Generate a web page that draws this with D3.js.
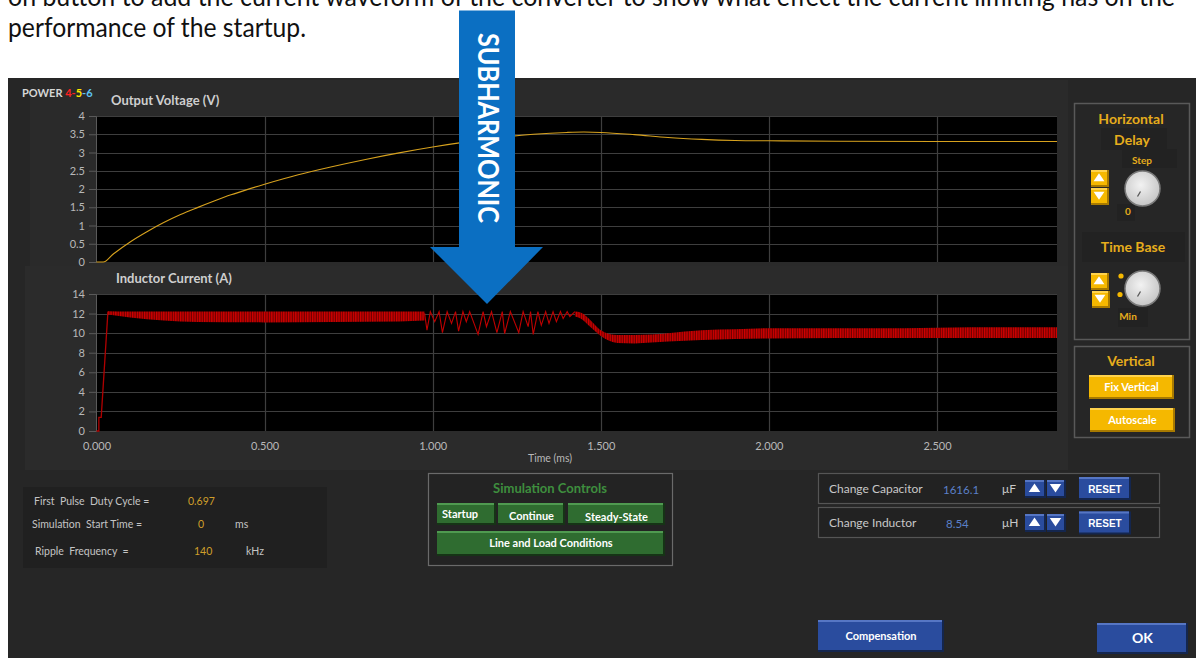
<!DOCTYPE html>
<html><head><meta charset="utf-8">
<script src="https://cdn.jsdelivr.net/npm/d3@7"></script>
<style>body{margin:0;background:#fff;overflow:hidden}svg{display:block;font-family:Lato,"Open Sans",sans-serif}</style>
</head><body><svg id="c" width="1196" height="658"></svg>
<script>
// ---------- data ----------
const introLines = ["on button to add the current waveform of the converter to show what effect the current limiting has on the", "performance of the startup."];
const timeTicks = [0, 0.5, 1.0, 1.5, 2.0, 2.5];
const timeMax = 2.857;
const voltTicks = [0, 0.5, 1, 1.5, 2, 2.5, 3, 3.5, 4];
const currTicks = [0, 2, 4, 6, 8, 10, 12, 14];

const voltT = [0, 0.02, 0.05, 0.1, 0.15, 0.2, 0.25, 0.3, 0.35, 0.4, 0.45, 0.5, 0.6, 0.7, 0.8, 0.9, 1.0, 1.1, 1.2, 1.3, 1.4, 1.45, 1.5, 1.6, 1.7, 1.8, 1.9, 2.0, 2.2, 2.5, 2.857];
const voltV = [0, 0, 0.22, 0.55, 0.83, 1.08, 1.3, 1.49, 1.67, 1.84, 1.99, 2.13, 2.39, 2.61, 2.81, 2.99, 3.15, 3.29, 3.41, 3.5, 3.55, 3.56, 3.55, 3.49, 3.41, 3.36, 3.33, 3.32, 3.31, 3.3, 3.3];

const iRampT = [0, 0.007, 0.007, 0.014, 0.034];
const iRampA = [0, 0, 1.4, 1.4, 12.2];
const iBand1T = [0.034, 0.1, 0.2, 0.3, 0.5, 0.7, 0.9, 0.976];
const iBand1Hi = [12.25, 12.2, 12.2, 12.2, 12.2, 12.2, 12.2, 12.2];
const iBand1Lo = [11.9, 11.6, 11.3, 11.15, 11.1, 11.15, 11.2, 11.3];
const iSubT = [0.976, 0.983, 0.993, 1.006, 1.019, 1.029, 1.043, 1.056, 1.068, 1.077, 1.090, 1.100, 1.110, 1.135, 1.150, 1.160, 1.175, 1.191, 1.207, 1.214, 1.231, 1.256, 1.269, 1.284, 1.291, 1.299, 1.313, 1.323, 1.336, 1.346, 1.358, 1.368, 1.380, 1.388, 1.400, 1.408, 1.423];
const iSubA = [12.02, 10.3, 12.2, 11.17, 12.2, 10.05, 12.2, 11.0, 12.2, 10.2, 12.2, 11.17, 12.2, 9.88, 12.2, 10.66, 12.2, 10.05, 12.2, 9.95, 12.2, 10.05, 12.2, 10.66, 12.2, 9.88, 12.2, 10.8, 12.2, 11.0, 12.2, 11.17, 12.2, 11.5, 12.2, 11.7, 12.2];
const iBand2T = [1.423, 1.44, 1.47, 1.5, 1.55, 1.6, 1.65, 1.7, 1.8, 1.9, 2.0, 2.2, 2.4, 2.6, 2.857];
const iBand2Hi = [12.2, 12.1, 11.3, 10.3, 9.8, 9.8, 9.85, 10.0, 10.3, 10.4, 10.5, 10.5, 10.5, 10.6, 10.6];
const iBand2Lo = [11.7, 11.5, 10.6, 9.7, 9.0, 8.95, 9.05, 9.15, 9.3, 9.4, 9.45, 9.5, 9.5, 9.5, 9.5];

const infoLabels = ["First  Pulse  Duty Cycle =", "Simulation  Start Time =", "Ripple  Frequency  ="];
const infoValues = ["0.697", "0", "140"];
const infoUnits = ["", "ms", "kHz"];
const simButtons = ["Startup", "Continue", "Steady-State", "Line and Load Conditions"];
const changeLabels = ["Change Capacitor", "Change Inductor"];
const changeValues = ["1616.1", "8.54"];
const changeUnits = ["\u03bcF", "\u03bcH"];

// ---------- drawing ----------
const svg = d3.select("#c");
svg.append("rect").attr("width", 1196).attr("height", 658).attr("fill", "#fff");
const defs = svg.append("defs");
const pat = defs.append("pattern").attr("id", "rip").attr("patternUnits", "userSpaceOnUse").attr("width", 2.4).attr("height", 40);
pat.append("rect").attr("width", 2.4).attr("height", 40).attr("fill", "#6a0000");
pat.append("rect").attr("width", 1.3).attr("height", 40).attr("fill", "#d40000");
const kg = defs.append("radialGradient").attr("id", "kg").attr("cx", "45%").attr("cy", "40%").attr("r", "60%");
kg.append("stop").attr("offset", "0%").attr("stop-color", "#f2f2f2");
kg.append("stop").attr("offset", "100%").attr("stop-color", "#c6c6c6");

// intro text
svg.append("text").attr("x", 8).attr("y", 6).attr("font-size", 26).attr("fill", "#111")
  .attr("textLength", 1167).attr("lengthAdjust", "spacingAndGlyphs").text(introLines[0]);
svg.append("text").attr("x", 8).attr("y", 37).attr("font-size", 26).attr("fill", "#111")
  .attr("textLength", 298).attr("lengthAdjust", "spacingAndGlyphs").text(introLines[1]);

// dark panel
svg.append("rect").attr("x", 8).attr("y", 78).attr("width", 1188).attr("height", 580).attr("fill", "#262626");
svg.append("rect").attr("x", 30).attr("y", 80).attr("width", 1038).attr("height", 186).attr("fill", "#2a2a2a");
svg.append("rect").attr("x", 25).attr("y", 266).attr("width", 1043).attr("height", 204).attr("fill", "#2b2b2b");

const x = d3.scaleLinear().domain([0, timeMax]).range([96.5, 1057]);
const yV = d3.scaleLinear().domain([0, 4]).range([262, 116]);
const yI = d3.scaleLinear().domain([0, 14]).range([431, 294]);

function plot(y, ticks, top, bottom) {
  const g = svg.append("g");
  g.append("rect").attr("x", 96).attr("y", top).attr("width", 961).attr("height", bottom - top).attr("fill", "#000");
  g.selectAll("line.h").data(ticks.slice(1)).join("line")
    .attr("x1", 96).attr("x2", 1057).attr("y1", d => Math.round(y(d)) + 0.5).attr("y2", d => Math.round(y(d)) + 0.5)
    .attr("stroke", "#3e3e3e").attr("stroke-width", 1.2);
  g.selectAll("line.v").data(timeTicks.slice(1)).join("line")
    .attr("x1", d => Math.round(x(d)) + 0.5).attr("x2", d => Math.round(x(d)) + 0.5).attr("y1", top).attr("y2", bottom)
    .attr("stroke", "#3e3e3e").attr("stroke-width", 1.2);
  const ax = g.append("g").attr("transform", "translate(96,0)")
    .call(d3.axisLeft(y).tickValues(ticks).tickSize(7).tickPadding(4).tickFormat(d => String(d)));
  ax.select(".domain").attr("stroke", "#5a5a5a");
  ax.selectAll(".tick line").attr("stroke", "#5a5a5a");
  ax.selectAll("text").attr("fill", "#b8b8b8").attr("font-size", 11).attr("font-family", "Lato, sans-serif");
  return g;
}
plot(yV, voltTicks, 116, 262);
plot(yI, currTicks, 294, 431);

// x axis labels
const xa = svg.append("g").attr("transform", "translate(0,440)")
  .call(d3.axisBottom(x).tickValues(timeTicks).tickSize(0).tickPadding(0).tickFormat(d3.format(".3f")));
xa.select(".domain").remove();
xa.selectAll("text").attr("fill", "#b8b8b8").attr("font-size", 11).attr("font-family", "Lato, sans-serif").attr("dy", "0.9em");
svg.append("text").attr("x", 550).attr("y", 462).attr("text-anchor", "middle").attr("font-size", 10.5).attr("fill", "#b8b8b8").text("Time (ms)");

// titles
svg.append("text").attr("x", 111).attr("y", 105).attr("font-size", 13).attr("font-weight", "bold").attr("fill", "#cfcfcf").text("Output Voltage (V)");
svg.append("text").attr("x", 116).attr("y", 283).attr("font-size", 13).attr("font-weight", "bold").attr("fill", "#cfcfcf").text("Inductor Current (A)");
const pw = svg.append("text").attr("x", 22).attr("y", 97).attr("font-size", 11).attr("font-weight", "bold");
pw.append("tspan").attr("fill", "#d6d6d6").text("POWER ");
pw.append("tspan").attr("fill", "#ff2020").text("4-");
pw.append("tspan").attr("fill", "#ffe600").text("5");
pw.append("tspan").attr("fill", "#5ec4f2").text("-6");

// voltage line
svg.append("path").datum(voltT.map((t, i) => [t, voltV[i]]))
  .attr("d", d3.line().x(d => x(d[0])).y(d => yV(d[1])).curve(d3.curveMonotoneX))
  .attr("fill", "none").attr("stroke", "#d7a21e").attr("stroke-width", 1.1);

// inductor current
const band = d3.area().x(d => x(d[0])).y0(d => yI(d[2])).y1(d => yI(d[1])).curve(d3.curveMonotoneX);
svg.append("path").datum(iBand1T.map((t, i) => [t, iBand1Hi[i], iBand1Lo[i]]))
  .attr("d", band).attr("fill", "url(#rip)");
svg.append("path").datum(iBand2T.map((t, i) => [t, iBand2Hi[i], iBand2Lo[i]]))
  .attr("d", band).attr("fill", "url(#rip)");
const ln = d3.line().x(d => x(d[0])).y(d => yI(d[1]));
svg.append("path").datum(iRampT.map((t, i) => [t, iRampA[i]])).attr("d", ln)
  .attr("fill", "none").attr("stroke", "#b00000").attr("stroke-width", 1.3);
svg.append("path").datum(iSubT.map((t, i) => [t, iSubA[i]])).attr("d", ln)
  .attr("fill", "none").attr("stroke", "#c00000").attr("stroke-width", 1.1);

// ---------- helpers ----------
function btn(x0, y0, w, h, fill, hi, lo, label, opts = {}) {
  const g = svg.append("g");
  g.append("rect").attr("x", x0).attr("y", y0).attr("width", w).attr("height", h).attr("fill", lo);
  g.append("rect").attr("x", x0).attr("y", y0).attr("width", w - 2).attr("height", h - 2).attr("fill", fill);
  g.append("rect").attr("x", x0).attr("y", y0).attr("width", w - 2).attr("height", 2).attr("fill", hi);
  if (label) {
    g.append("text").attr("x", opts.tx ?? x0 + w / 2).attr("y", opts.ty ?? y0 + h / 2 + 4)
      .attr("text-anchor", opts.anchor ?? "middle").attr("font-size", opts.fs ?? 11).attr("font-weight", "bold")
      .attr("font-family", opts.ff ?? "Lato, sans-serif").attr("fill", opts.color ?? "#fff").text(label);
  }
  return g;
}
function arrowBtn(x0, y0, w, h, up, fill, hi, lo) {
  btn(x0, y0, w, h, fill, hi, lo, null);
  const cx = x0 + w / 2 - 1, cy = y0 + h / 2 - 1, s = Math.min(w, h) * 0.32;
  const pts = up ? [[cx - s, cy + s * 0.7], [cx + s, cy + s * 0.7], [cx, cy - s * 0.8]]
                 : [[cx - s, cy - s * 0.7], [cx + s, cy - s * 0.7], [cx, cy + s * 0.8]];
  svg.append("path").attr("d", "M" + pts.join("L") + "Z").attr("fill", "#fff");
}
function knob(cx, cy) {
  svg.append("circle").attr("cx", cx).attr("cy", cy).attr("r", 17.5).attr("fill", "url(#kg)").attr("stroke", "#7a7a7a").attr("stroke-width", 1.5);
  svg.append("line").attr("x1", cx - 5).attr("y1", cy + 8).attr("x2", cx - 2).attr("y2", cy + 3).attr("stroke", "#555").attr("stroke-width", 1.3);
}

const gold = "#e6ad1c", yFill = "#f5b800", yHi = "#ffd34d", yLo = "#a87a00";

// right panel
svg.append("rect").attr("x", 1074.5).attr("y", 103.5).attr("width", 115).attr("height", 236).attr("fill", "none").attr("stroke", "#595959").attr("stroke-width", 1.5);
svg.append("rect").attr("x", 1101).attr("y", 128).attr("width", 66).attr("height", 22).attr("fill", "#222");
svg.append("rect").attr("x", 1122).attr("y", 149).attr("width", 55).attr("height", 19).attr("fill", "#222");
svg.append("rect").attr("x", 1117).attr("y", 204).attr("width", 18).attr("height", 17).attr("fill", "#222");
svg.append("rect").attr("x", 1082).attr("y", 232).attr("width", 103).attr("height", 30).attr("fill", "#222");
svg.append("rect").attr("x", 1118).attr("y", 308).attr("width", 30).attr("height", 19).attr("fill", "#222");
svg.append("text").attr("x", 1131).attr("y", 124).attr("text-anchor", "middle").attr("font-size", 14).attr("font-weight", "bold").attr("fill", gold).text("Horizontal");
svg.append("text").attr("x", 1132).attr("y", 145).attr("text-anchor", "middle").attr("font-size", 14).attr("font-weight", "bold").attr("fill", gold).text("Delay");
svg.append("text").attr("x", 1142).attr("y", 164).attr("text-anchor", "middle").attr("font-size", 10).attr("font-weight", "bold").attr("fill", gold).text("Step");
arrowBtn(1091, 170, 18, 17, true, yFill, yHi, yLo);
arrowBtn(1091, 188, 18, 17, false, yFill, yHi, yLo);
knob(1142.5, 188.5);
svg.append("text").attr("x", 1128).attr("y", 215).attr("text-anchor", "middle").attr("font-size", 10).attr("font-weight", "bold").attr("fill", gold).text("0");
svg.append("text").attr("x", 1133).attr("y", 252).attr("text-anchor", "middle").attr("font-size", 14).attr("font-weight", "bold").attr("fill", gold).text("Time Base");
arrowBtn(1091, 273, 18, 17, true, yFill, yHi, yLo);
arrowBtn(1092, 291, 18, 17, false, yFill, yHi, yLo);
svg.append("circle").attr("cx", 1121).attr("cy", 276).attr("r", 2.6).attr("fill", yFill);
svg.append("circle").attr("cx", 1120).attr("cy", 294.5).attr("r", 2.6).attr("fill", yFill);
knob(1142.5, 288.5);
svg.append("text").attr("x", 1128).attr("y", 320).attr("text-anchor", "middle").attr("font-size", 10).attr("font-weight", "bold").attr("fill", gold).text("Min");

svg.append("rect").attr("x", 1074.5).attr("y", 346.5).attr("width", 115).attr("height", 91).attr("fill", "none").attr("stroke", "#595959").attr("stroke-width", 1.5);
svg.append("text").attr("x", 1131).attr("y", 366).attr("text-anchor", "middle").attr("font-size", 14).attr("font-weight", "bold").attr("fill", gold).text("Vertical");
btn(1089, 375, 85, 24, yFill, yHi, yLo, "Fix Vertical", {fs: 11});
btn(1090, 408, 85, 24, yFill, yHi, yLo, "Autoscale", {fs: 11});

// info panel
svg.append("rect").attr("x", 23).attr("y", 487).attr("width", 304).attr("height", 81).attr("fill", "#202020");
const infoY = [505, 528, 555];
const infoX = [34, 32, 35];
const valX = [188, 198, 194];
const unitX = [null, 235, 246];
infoLabels.forEach((l, i) => {
  svg.append("text").attr("x", infoX[i]).attr("y", infoY[i]).attr("font-size", 10.5).attr("fill", "#c4c4c4").style("white-space", "pre").text(l);
  svg.append("text").attr("x", valX[i]).attr("y", infoY[i]).attr("font-size", 10.5).attr("fill", "#cf9f2a").text(infoValues[i]);
  if (infoUnits[i]) svg.append("text").attr("x", unitX[i]).attr("y", infoY[i]).attr("font-size", 10.5).attr("fill", "#c4c4c4").text(infoUnits[i]);
});

// simulation controls
svg.append("rect").attr("x", 428.5).attr("y", 473.5).attr("width", 244).attr("height", 92).attr("fill", "#232323").attr("stroke", "#6a6a6a").attr("stroke-width", 1.2);
svg.append("text").attr("x", 550).attr("y", 493).attr("text-anchor", "middle").attr("font-size", 13).attr("font-weight", "bold").attr("fill", "#3e8e3e").text("Simulation Controls");
const gF = "#2f6c30", gH = "#4f9a50", gL = "#163416";
btn(437, 503, 59, 22, gF, gH, gL, simButtons[0], {tx: 442, anchor: "start", ty: 518});
btn(498, 503, 67, 22, gF, gH, gL, simButtons[1], {ty: 520});
btn(568, 503, 97, 22, gF, gH, gL, simButtons[2], {ty: 521});
btn(437, 531, 228, 25, gF, gH, gL, simButtons[3], {ty: 547});

// change panel
const bF = "#2a4c9e", bH = "#5676c4", bL = "#14264e";
[0, 1].forEach(i => {
  const y0 = 473 + i * 34;
  svg.append("rect").attr("x", 818.5).attr("y", y0 + 0.5).attr("width", 341).attr("height", 30).attr("fill", "#222").attr("stroke", "#555").attr("stroke-width", 1.2);
  svg.append("text").attr("x", 829).attr("y", y0 + 20).attr("font-size", 12).attr("fill", "#c8c8c8").text(changeLabels[i]);
  svg.append("text").attr("x", i ? 946 : 943).attr("y", y0 + 21).attr("font-size", 11.5).attr("fill", "#5b80c8").text(changeValues[i]);
  svg.append("text").attr("x", 1002).attr("y", y0 + 20).attr("font-size", 12).attr("fill", "#c8c8c8").text(changeUnits[i]);
  arrowBtn(1025, y0 + 7, 21, 18, true, bF, bH, bL);
  arrowBtn(1047, y0 + 7, 19, 18, false, bF, bH, bL);
  btn(1079, y0 + 4 + i * 0.5, 52, 23, bF, bH, bL, "RESET", {ff: "'Liberation Sans', Arial, sans-serif", fs: 10, ty: y0 + 20});
});

// bottom buttons
btn(818, 620, 126, 32, bF, bH, bL, "Compensation", {fs: 11, ty: 640});
btn(1097, 623, 91, 31, bF, bH, bL, "OK", {fs: 14, ty: 643});

// SUBHARMONIC arrow overlay
svg.append("path").attr("d", "M459,10.5 L515,10.5 L515,247 L543,247 L487,304 L430,247 L459,247 Z").attr("fill", "#0b6fc2");
svg.append("text").attr("transform", "translate(478,128) rotate(90)").attr("text-anchor", "middle")
  .attr("font-size", 28).attr("font-weight", "bold").attr("fill", "#fff")
  .attr("textLength", 190).attr("lengthAdjust", "spacingAndGlyphs").text("SUBHARMONIC");
</script></body></html>
